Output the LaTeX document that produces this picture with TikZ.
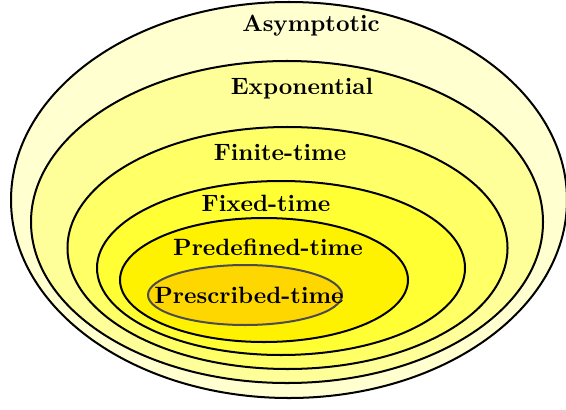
\documentclass[tikz,border=0pt]{standalone}
\usepackage{tikz}
\definecolor{asymfill}{RGB}{255,255,208}
\definecolor{expofill}{RGB}{255,255,153}
\definecolor{finifill}{RGB}{255,255,102}
\definecolor{fixefill}{RGB}{255,255,51}
\definecolor{predfill}{RGB}{255,242,0}
\definecolor{presfill}{RGB}{255,215,0}
\tikzset{
  ring/.style={draw=black,line width=0.85pt},
  setlabel/.style={font=\bfseries,inner sep=1pt}
}
\begin{document}
\begin{tikzpicture}[x=0.4237pt,y=0.4237pt]
\useasboundingbox (0,0) rectangle (566,409);
\filldraw[ring,fill=asymfill] (289,209) ellipse [x radius=278,y radius=198];
\filldraw[ring,fill=expofill] (287,187) ellipse [x radius=256,y radius=161];
\filldraw[ring,fill=finifill] (287.5,161) ellipse [x radius=220,y radius=121];
\filldraw[ring,fill=fixefill] (281,141) ellipse [x radius=184,y radius=87];
\filldraw[ring,fill=predfill] (264,129) ellipse [x radius=144,y radius=62];
\filldraw[ring,draw=black!70,fill=presfill] (245,114) ellipse [x radius=97,y radius=30];
\node[setlabel] (asym) at (311,383) {Asymptotic};
\node[setlabel] (expo) at (302,320) {Exponential};
\node[setlabel] (fini) at (280,257) {Finite-time};
\node[setlabel] (fixe) at (266,206) {Fixed-time};
\node[setlabel] (pred) at (268,162) {Predefined-time};
\node[setlabel] (pres) at (249,114) {Prescribed-time};
\end{tikzpicture}
\end{document}
